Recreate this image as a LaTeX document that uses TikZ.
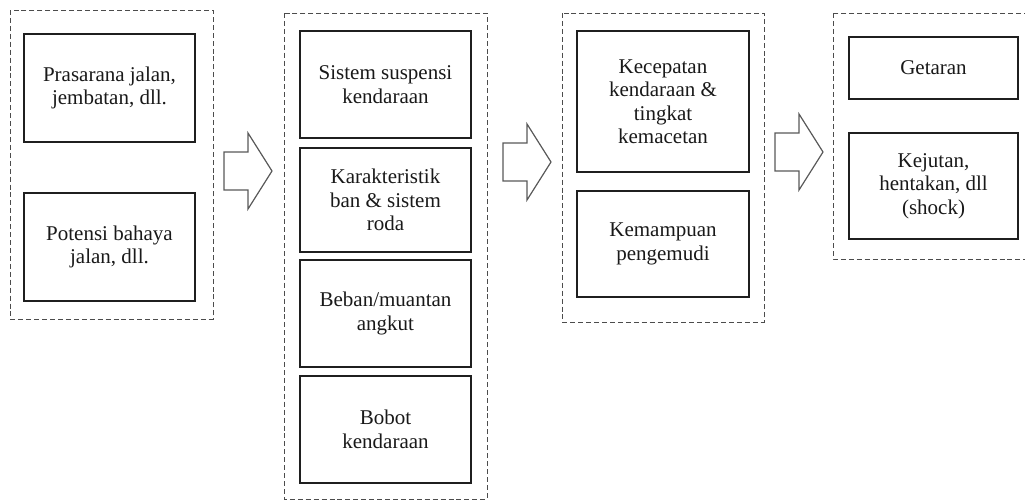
\documentclass[tikz,border=0pt]{standalone}
\usepackage{fontspec}
\setmainfont{Liberation Serif}
\begin{document}
\begin{tikzpicture}[x=0.75pt,y=-0.75pt,
  group/.style={draw=black!70, line width=0.75pt, dash pattern=on 3.75pt off 2.2pt},
  box/.style={draw=black!88, line width=0.9pt, fill=white, align=center, inner sep=0pt,
    font=\fontsize{15.75pt}{17.6pt}\selectfont, text=black!90},
  blockarrow/.style={draw=black!65, line width=0.9pt, fill=white, line join=miter},
  pics/fatarrow/.style={code={
    \draw[blockarrow] (0,-19) -- (24,-19) -- (24,-38) -- (48,0) -- (24,38) -- (24,19) -- (0,19) -- cycle;}}
]
\useasboundingbox (0,0) rectangle (1025,501);

% dashed group frames
\draw[group] (10,10) rectangle (213,319);
\draw[group] (284,13) rectangle (487,499);
\draw[group] (562,13) rectangle (764,322);
\draw[group] (833,13) rectangle (1030,259);

% column 1
\node[box, minimum width=128.25pt, minimum height=81pt] (a1) at (109.5,88) {Prasarana jalan,\\jembatan, dll.};
\node[box, minimum width=128.25pt, minimum height=81pt] (a2) at (109.5,247) {Potensi bahaya\\jalan, dll.};

% column 2
\node[box, minimum width=128.25pt, minimum height=80.25pt] (b1) at (385.5,84.5) {Sistem suspensi\\kendaraan};
\node[box, minimum width=128.25pt, minimum height=78pt] (b2) at (385.5,200) {Karakteristik\\ban \& sistem\\roda};
\node[box, minimum width=128.25pt, minimum height=80.25pt] (b3) at (385.5,313.5) {Beban/muantan\\angkut};
\node[box, minimum width=128.25pt, minimum height=80.25pt] (b4) at (385.5,429.5) {Bobot\\kendaraan};

% column 3
\node[box, minimum width=129pt, minimum height=105.75pt] (c1) at (663,101.5) {Kecepatan\\kendaraan \&\\tingkat\\kemacetan};
\node[box, minimum width=129pt, minimum height=79.5pt] (c2) at (663,244) {Kemampuan\\pengemudi};

% column 4
\node[box, minimum width=126.75pt, minimum height=46.5pt] (d1) at (933.5,68) {Getaran};
\node[box, minimum width=126.75pt, minimum height=79.5pt] (d2) at (933.5,186) {Kejutan,\\hentakan, dll\\(shock)};

% block arrows between the columns
\pic at (224,171) {fatarrow};
\pic at (503,162) {fatarrow};
\pic at (775,152) {fatarrow};
\end{tikzpicture}
\end{document}
